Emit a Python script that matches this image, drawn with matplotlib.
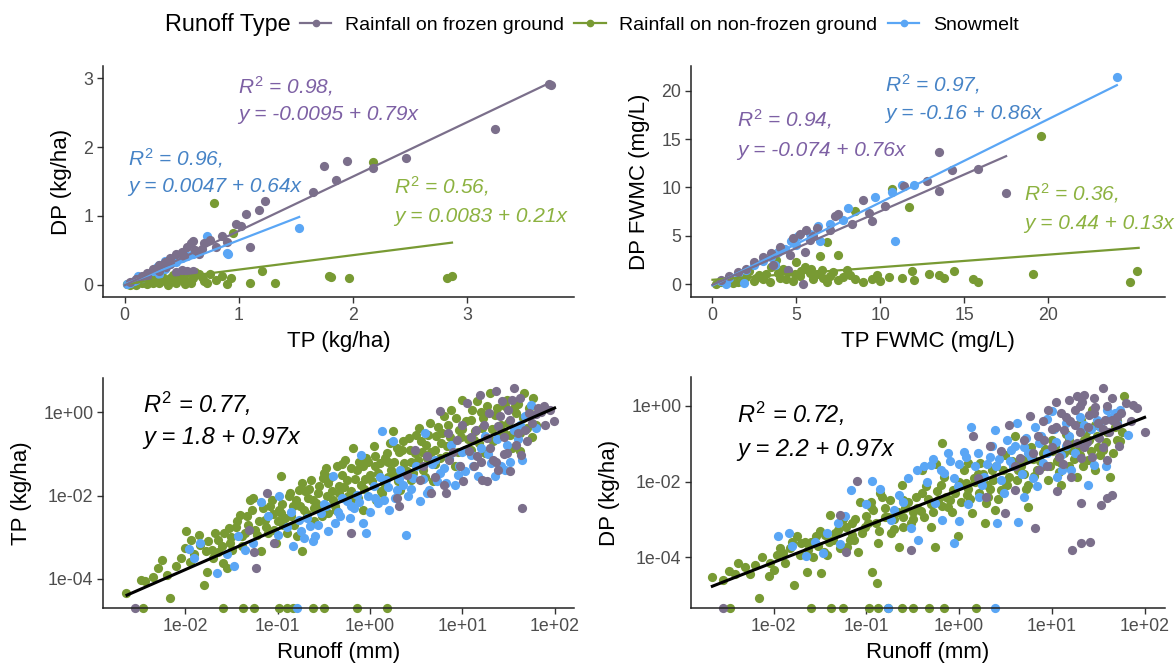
import numpy as np
import matplotlib
matplotlib.use('Agg')
import matplotlib.pyplot as plt
from matplotlib.lines import Line2D
from matplotlib.ticker import FixedLocator, FuncFormatter
import matplotlib.transforms as mtransforms

plt.rcParams['font.family'] = ['Liberation Sans', 'DejaVu Sans']
plt.rcParams['mathtext.fontset'] = 'custom'
plt.rcParams['mathtext.it'] = 'Liberation Sans:italic'
plt.rcParams['mathtext.rm'] = 'Liberation Sans'
plt.rcParams['mathtext.default'] = 'it'

# ---- colours ------------------------------------------------------------
types = ['Rainfall on frozen ground', 'Rainfall on non-frozen ground', 'Snowmelt']
pt_col = {'frozen': '#7B6F8B', 'nonfrozen': '#789A33', 'snow': '#5AA6F5'}
txt_col = {'frozen': '#7D60A4', 'nonfrozen': '#8CB240', 'snow': '#4683C6'}

# ---- panel A: DP vs TP (kg/ha) -------------------------------------------
tl_frozen = [(3.72, 2.92), (3.74, 2.90), (3.25, 2.27), (2.47, 1.84), (1.95, 1.80), (1.75, 1.72),
             (1.85, 1.52), (2.18, 1.70), (1.65, 1.35), (1.23, 1.22), (1.18, 1.09), (1.06, 1.02),
             (0.98, 0.88), (1.02, 0.85), (1.10, 0.54), (0.85, 0.70), (0.75, 0.65), (0.70, 0.60),
             (0.60, 0.64), (0.58, 0.60), (0.55, 0.55), (0.50, 0.47), (0.45, 0.45), (0.40, 0.38),
             (0.35, 0.33), (0.30, 0.28), (0.25, 0.22), (0.20, 0.17), (0.15, 0.12), (0.10, 0.08),
             (0.05, 0.04), (0.60, 0.20), (0.55, 0.20), (0.50, 0.21), (0.65, 0.45), (0.62, 0.50),
             (0.80, 0.55), (0.90, 0.62), (0.45, 0.18), (0.40, 0.30), (0.30, 0.20), (0.20, 0.12),
             (0.68, 0.52), (0.52, 0.42), (0.36, 0.26)]
tl_nonfrozen = [(2.87, 0.13), (2.83, 0.10), (1.97, 0.09), (1.79, 0.12), (1.81, 0.11), (1.32, 0.02),
                (1.10, 0.02), (0.93, 0.10), (0.90, 0.01), (0.80, 0.06), (0.75, 0.15), (0.70, 0.05),
                (0.72, 0.02), (1.20, 0.20), (0.65, 0.16), (0.60, 0.10), (0.55, 0.05), (0.50, 0.08),
                (0.45, 0.02), (0.40, 0.10), (0.35, 0.05), (0.30, 0.03), (0.25, 0.02), (0.20, 0.01),
                (0.15, 0.02), (0.10, 0.00), (0.05, 0.00), (0.02, 0.01), (0.78, 1.18), (2.18, 1.78),
                (0.45, 0.42), (0.95, 0.75), (0.50, 0.18), (0.62, 0.19), (0.42, 0.14), (0.33, 0.12),
                (0.28, 0.08), (0.18, 0.06), (0.12, 0.04), (0.38, 0.00), (0.58, 0.02), (0.68, 0.11),
                (0.85, 0.13), (0.48, 0.12), (0.22, 0.09), (0.08, 0.02), (0.53, 0.01), (0.27, 0.15)]
tl_snow = [(1.53, 0.82), (0.91, 0.44), (0.90, 0.46), (0.72, 0.70), (0.60, 0.45), (0.55, 0.42),
           (0.50, 0.38), (0.45, 0.33), (0.40, 0.30), (0.35, 0.35), (0.30, 0.28), (0.28, 0.25),
           (0.25, 0.20), (0.20, 0.15), (0.15, 0.10), (0.10, 0.07), (0.08, 0.05), (0.05, 0.03),
           (0.02, 0.01), (0.35, 0.22), (0.30, 0.15), (0.12, 0.12)]
# regression (intercept, slope, x end)
tl_fit = {'frozen': (-0.0095, 0.79, 3.73), 'nonfrozen': (0.0083, 0.21, 2.87), 'snow': (0.0047, 0.64, 1.53)}
tl_r2 = {'frozen': (0.98, '-0.0095 + 0.79x'), 'nonfrozen': (0.56, '0.0083 + 0.21x'), 'snow': (0.96, '0.0047 + 0.64x')}

# ---- panel B: DP FWMC vs TP FWMC (mg/L) ----------------------------------
tr_frozen = [(17.5, 9.4), (13.5, 13.7), (13.5, 9.6), (14.3, 11.8), (15.8, 11.9), (12.8, 10.7),
             (11.4, 10.1), (10.3, 8.1), (9.3, 7.3), (9.0, 8.7), (9.5, 6.5), (7.5, 7.2), (7.3, 7.0),
             (6.2, 5.8), (5.6, 5.6), (5.2, 5.2), (4.8, 4.8), (5.5, 3.3), (4.6, 3.0), (4.0, 3.8),
             (3.5, 3.2), (3.0, 2.8), (2.5, 2.3), (2.0, 1.6), (1.5, 1.2), (1.0, 0.8), (0.5, 0.4),
             (5.4, 0.0), (4.5, 1.5), (3.6, 2.0), (6.0, 5.0), (5.8, 4.6), (7.0, 5.6), (8.3, 6.2)]
tr_nonfrozen = [(19.6, 15.3), (10.7, 9.8), (11.7, 8.0), (8.5, 7.6), (6.8, 4.3), (7.5, 3.0), (6.4, 2.9),
                (25.3, 1.3), (24.9, 0.2), (19.1, 1.0), (15.5, 0.5), (15.8, 0.2), (14.4, 1.4),
                (13.8, 0.6), (13.5, 0.9), (12.9, 1.0), (12.0, 0.4), (11.9, 1.3), (11.3, 0.6),
                (10.5, 0.7), (10.0, 0.3), (9.5, 0.5), (9.0, 0.2), (8.5, 0.5), (8.0, 1.5), (7.5, 0.4),
                (7.0, 0.8), (6.5, 1.5), (6.0, 0.5), (5.5, 1.8), (5.2, 0.8), (5.0, 2.3), (4.5, 1.2),
                (4.0, 0.6), (3.5, 1.8), (3.2, 1.0), (3.0, 0.5), (2.5, 0.3), (2.0, 0.7), (1.5, 0.2),
                (1.0, 0.4), (0.5, 0.2), (0.2, 0.0), (3.8, 2.5), (2.2, 1.3), (4.8, 0.3), (6.2, 1.0),
                (7.2, 1.2), (8.2, 0.9), (5.8, 1.1), (4.2, 1.6), (3.4, 0.2), (2.8, 0.9), (1.8, 0.4),
                (9.8, 0.9), (6.8, 0.2), (4.4, 0.5), (5.3, 1.4), (6.6, 0.6), (3.9, 1.1), (2.6, 0.6),
                (1.2, 0.1), (0.8, 0.3), (7.8, 0.7), (5.9, 1.6), (4.9, 1.0)]
tr_snow = [(24.1, 21.4), (10.9, 4.5), (11.3, 10.2), (10.7, 9.5), (9.7, 9.0), (8.1, 7.9), (7.8, 6.6),
           (7.0, 6.2), (6.3, 6.0), (6.4, 4.5), (5.8, 5.2), (5.1, 5.0), (4.9, 4.8), (4.7, 4.5),
           (4.3, 3.6), (3.9, 3.3), (3.5, 2.8), (3.0, 2.4), (2.5, 2.0), (2.0, 1.5), (1.5, 1.0),
           (1.0, 0.6), (0.5, 0.3), (1.9, 0.1), (0.8, 0.0), (5.0, 4.0), (3.7, 2.0), (12.0, 10.2)]
tr_fit = {'frozen': (-0.074, 0.76, 17.5), 'nonfrozen': (0.44, 0.13, 25.4), 'snow': (-0.16, 0.86, 24.1)}
tr_r2 = {'frozen': (0.94, '-0.074 + 0.76x'), 'nonfrozen': (0.36, '0.44 + 0.13x'), 'snow': (0.97, '-0.16 + 0.86x')}

# ---- panel C: TP vs runoff, values as log10(runoff mm), log10(TP kg/ha) ----
bl_nonfrozen = [(-2.64, -4.35), (-2.48, -4.03), (-2.43, -4.06), (-2.16, -4.45), (-2.29, -3.74),
                (-2.05, -3.50), (-1.99, -2.85), (-1.94, -3.06), (-1.84, -3.18), (-1.78, -3.34),
                (-1.76, -3.84), (-1.80, -4.14), (-1.71, -3.30), (-1.68, -2.90), (-1.65, -3.06),
                (-1.59, -3.62), (-1.55, -3.74), (-1.53, -2.78), (-1.49, -3.30), (-1.41, -2.46),
                (-1.39, -2.98), (-1.33, -2.50), (-1.30, -2.10), (-1.27, -2.06), (-1.24, -2.82),
                (-1.18, -3.34), (-1.14, -2.58), (-1.08, -2.26), (-1.04, -2.82), (-1.02, -3.14),
                (-0.96, -1.54), (-0.96, -2.42), (-0.94, -2.70), (-0.90, -2.90), (-0.88, -2.02),
                (-0.83, -2.26), (-0.79, -2.98), (-0.77, -1.86), (-0.73, -3.34), (-0.71, -2.34),
                (-0.67, -2.06), (-0.64, -1.62), (-0.61, -2.62), (-0.58, -2.18), (-0.55, -1.78),
                (-0.51, -1.58), (-0.48, -1.34), (-0.45, -2.42), (-0.41, -1.90), (-0.38, -2.26),
                (-0.36, -1.30), (-0.33, -1.78), (-0.27, -1.14), (-0.25, -1.62), (-0.22, -2.14),
                (-0.18, -0.86), (-0.14, -1.38), (-0.10, -1.74), (-0.07, -2.34), (-0.04, -1.10),
                (0.00, -1.50), (0.04, -0.82), (0.07, -2.10), (0.11, -1.22), (0.15, -1.70),
                (0.18, -0.98), (0.23, -1.38), (0.25, -0.46), (0.29, -0.86), (0.33, -1.86),
                (0.37, -1.22), (0.42, -0.62), (0.45, -1.62), (0.49, -0.98), (0.53, -0.38),
                (0.57, -1.38), (0.61, -0.78), (0.65, -0.26), (0.68, -1.66), (0.72, -0.58),
                (0.76, -1.10), (0.80, -0.10), (0.84, -0.82), (0.88, 0.06), (0.92, -1.30),
                (0.97, -0.42), (1.00, 0.30), (1.03, -0.90), (1.09, -0.18), (1.13, -0.66),
                (1.16, 0.26), (1.21, -0.38), (1.25, -0.98), (1.30, 0.46), (1.35, -0.06),
                (1.40, -0.58), (1.46, 0.14), (1.50, -0.26), (1.54, -0.86), (1.58, -0.02),
                (1.63, -0.94), (1.67, 0.46), (1.70, -0.38), (1.77, 0.34), (1.80, -0.30),
                (-2.20, -3.90), (-2.10, -3.70), (-1.90, -3.40), (-1.70, -3.50), (-1.60, -3.20),
                (-1.50, -3.00), (-1.45, -2.75), (-1.35, -2.90), (-1.20, -2.60), (-1.10, -2.90),
                (-1.05, -2.45), (-0.95, -2.20), (-0.85, -2.50), (-0.80, -2.10), (-0.70, -1.90),
                (-0.62, -2.10), (-0.55, -2.30), (-0.45, -1.70), (-0.40, -2.10), (-0.30, -1.50),
                (-0.20, -1.90), (-0.12, -1.20), (-0.05, -1.60), (0.05, -1.30), (0.12, -1.90),
                (0.20, -1.20), (0.28, -1.50), (0.35, -0.90), (0.45, -1.20), (0.55, -0.70),
                (0.62, -1.10), (0.70, -0.90), (0.78, -0.50), (0.90, -0.70), (1.00, -0.40),
                (1.10, -0.90), (1.20, 0.00), (1.32, -0.40), (1.45, -0.50), (1.60, 0.20),
                (-2.35, -3.95), (-2.25, -3.55), (-2.00, -3.25), (-1.95, -3.60), (-1.85, -2.95),
                (-1.75, -3.10), (-1.65, -3.35), (-1.58, -2.90), (-1.52, -3.15), (-1.44, -2.60),
                (-1.38, -3.20), (-1.32, -2.70), (-1.28, -2.35), (-1.22, -2.95), (-1.16, -2.30),
                (-1.12, -2.75), (-1.06, -2.10), (-1.00, -2.60), (-0.98, -2.35), (-0.92, -2.55),
                (-0.86, -1.95), (-0.82, -2.70), (-0.76, -2.25), (-0.74, -1.70), (-0.68, -2.45),
                (-0.66, -1.85), (-0.60, -2.30), (-0.56, -1.95), (-0.52, -2.50), (-0.50, -1.45),
                (-0.46, -2.00), (-0.42, -1.55), (-0.37, -2.35), (-0.34, -1.95), (-0.30, -1.25),
                (-0.28, -1.80), (-0.24, -2.00), (-0.20, -1.35), (-0.16, -1.60), (-0.13, -2.05),
                (-0.08, -1.30), (-0.06, -1.85), (-0.02, -1.20), (0.02, -1.65), (0.06, -1.05),
                (0.09, -1.45), (0.13, -1.95), (0.16, -1.10), (0.20, -1.55), (0.22, -0.75),
                (0.26, -1.20), (0.30, -1.65), (0.32, -0.95), (0.36, -0.70), (0.40, -1.40),
                (0.43, -0.90), (0.47, -1.45), (0.50, -0.55), (0.52, -1.15), (0.56, -0.95),
                (0.60, -1.55), (0.63, -0.55), (0.66, -0.95), (0.70, -1.25), (0.74, -0.35),
                (0.77, -0.75), (0.82, -1.05), (0.85, -0.30), (0.87, -0.60), (0.93, -0.15),
                (0.95, -0.95), (0.99, -0.60), (1.04, -0.20), (1.06, -0.65), (1.11, 0.05),
                (1.14, -0.45), (1.18, -0.75), (1.23, -0.15), (1.27, 0.15), (1.33, -0.70),
                (1.38, 0.10), (1.42, -0.30), (1.48, 0.30), (1.52, -0.55), (1.56, 0.10),
                (1.62, -0.50), (1.66, -0.15), (1.72, 0.10), (1.75, -0.60)]
bl_snow = [(-1.96, -3.28), (-1.84, -3.15), (-1.66, -3.87), (-1.47, -3.70), (-1.43, -2.96),
           (-1.27, -3.14), (-1.18, -2.15), (-0.98, -2.02), (-0.83, -3.20), (-0.77, -2.58),
           (-0.71, -3.02), (-0.65, -2.74), (-0.59, -2.98), (-0.53, -2.42), (-0.48, -2.26),
           (-0.40, -1.54), (-0.38, -2.66), (-0.32, -2.50), (-0.25, -2.14), (-0.20, -2.26),
           (-0.14, -1.98), (-0.10, -1.02), (-0.08, -2.66), (-0.04, -2.90), (-0.02, -2.02),
           (0.04, -1.78), (0.09, -2.18), (0.13, -0.46), (0.17, -1.62), (0.21, -2.34),
           (0.25, -0.70), (0.29, -1.86), (0.33, -1.38), (0.39, -2.94), (0.41, -2.02),
           (0.47, -1.58), (0.54, -2.14), (0.60, -0.50), (0.64, -1.86), (0.70, -1.14),
           (0.76, -1.46), (0.82, -1.70), (0.88, -0.78), (0.92, -1.74), (0.97, -1.30),
           (1.03, -1.42), (1.09, -1.02), (1.17, -1.54), (1.25, -0.58), (1.31, -1.22),
           (1.35, -1.54), (1.42, -1.30), (1.46, -1.38), (1.48, -0.78), (1.56, -0.42),
           (1.68, -0.10), (1.74, 0.18), (1.80, -0.38),
           (-1.90, -3.50), (-1.55, -3.40), (-1.35, -3.30), (-1.10, -2.50), (-1.00, -2.95),
           (-0.90, -2.75), (-0.85, -2.40), (-0.75, -2.85), (-0.68, -2.55), (-0.62, -3.10),
           (-0.56, -2.70), (-0.50, -2.20), (-0.45, -2.85), (-0.35, -2.40), (-0.30, -2.05),
           (-0.22, -2.55), (-0.17, -2.30), (-0.12, -2.15), (0.00, -2.40), (0.06, -2.05),
           (0.11, -1.55), (0.15, -2.10), (0.20, -1.80), (0.27, -2.05), (0.31, -1.60),
           (0.36, -1.75), (0.44, -1.85), (0.50, -1.30), (0.57, -1.60), (0.62, -1.95),
           (0.67, -1.25), (0.73, -1.65), (0.80, -1.35), (0.86, -1.10), (0.95, -1.50),
           (1.00, -0.95), (1.12, -1.30), (1.20, -0.85), (1.28, -1.00), (1.38, -0.65),
           (1.52, -1.20), (1.60, -0.65), (1.62, -0.30), (1.65, -1.15)]
bl_frozen = [(-1.11, -1.94), (-1.26, -3.36), (-1.23, -3.74), (-1.31, -2.82), (-1.04, -3.14),
             (-0.21, -2.91), (0.29, -2.06), (0.32, -2.26), (0.49, -0.90), (0.58, -1.30),
             (0.66, -1.94), (0.82, -1.94), (0.76, 0.02), (0.86, -1.14), (0.94, -0.66),
             (1.01, -1.66), (1.05, 0.22), (1.07, -0.94), (1.13, -1.30), (1.15, -0.42),
             (1.19, 0.42), (1.21, -1.62), (1.27, -0.62), (1.29, -0.02), (1.33, -1.14),
             (1.37, 0.50), (1.39, -0.34), (1.43, 0.26), (1.48, -0.98), (1.52, -0.18),
             (1.54, 0.30), (1.56, 0.58), (1.58, -0.78), (1.64, -1.02), (1.65, -2.30),
             (1.68, -0.42), (1.72, -0.02), (1.82, 0.10), (1.89, 0.14), (1.99, -0.22),
             (1.52, -1.42), (1.39, -1.38), (1.27, -1.66), (0.80, -1.74), (0.54, -1.62),
             (0.40, -1.50), (0.62, -1.05), (0.70, -1.55), (0.90, -0.95), (0.98, -1.30),
             (1.10, -0.60), (1.16, -1.05), (1.24, -0.30), (1.30, -0.85), (1.36, -1.20),
             (1.41, -0.10), (1.45, -0.60), (1.50, 0.05), (1.60, -0.50), (1.62, 0.35),
             (1.70, -0.70), (1.75, -0.25), (1.80, -0.05), (1.85, 0.00), (1.90, -0.30),
             (1.95, 0.05), (1.20, -1.20), (1.00, -0.30), (0.85, -0.50), (1.45, -1.00)]
# events with zero TP (drawn on the lower panel edge), log10 runoff
bl_zero = {'nonfrozen': [-2.46, -1.59, -1.37, -1.26, -0.98, -0.90, -0.83, -0.62, -0.50, -0.14, 0.18],
           'frozen': [-2.54], 'snow': [-0.79]}
bl_fit = (-1.84, 0.97, -2.63, 2.0)   # log-log intercept, slope, x range

# ---- panel D: DP vs runoff (log10 values) --------------------------------
br_nonfrozen = [(-2.66, -4.53), (-2.48, -4.36), (-2.42, -4.44), (-2.31, -4.25), (-2.16, -5.07),
                (-2.04, -4.14), (-1.99, -4.33), (-1.93, -3.76), (-1.78, -4.73), (-1.75, -3.45),
                (-1.70, -3.63), (-1.64, -4.38), (-1.63, -3.81), (-1.54, -3.45), (-1.49, -4.41),
                (-1.46, -3.85), (-1.39, -2.88), (-1.36, -3.54), (-1.30, -3.28), (-1.21, -3.72),
                (-1.15, -3.10), (-1.09, -3.85), (-1.07, -2.53), (-1.01, -3.19), (-0.95, -2.66),
                (-0.94, -4.40), (-0.89, -4.69), (-0.87, -3.63), (-0.83, -2.40), (-0.77, -2.93),
                (-0.73, -3.37), (-0.65, -3.72), (-0.62, -2.09), (-0.58, -2.70), (-0.52, -3.10),
                (-0.46, -2.40), (-0.41, -2.79), (-0.36, -2.13), (-0.30, -3.19), (-0.26, -3.72),
                (-0.23, -2.48), (-0.18, -0.97), (-0.16, -1.87), (-0.12, -2.66), (-0.07, -2.22),
                (-0.01, -3.45), (0.05, -1.69), (0.09, -2.35), (0.14, -2.84), (0.17, -2.00),
                (0.23, -1.52), (0.28, -3.10), (0.31, -2.40), (0.35, -1.69), (0.39, -2.75),
                (0.45, -2.22), (0.49, -1.30), (0.54, -1.87), (0.60, -0.81), (0.64, -1.69),
                (0.70, -1.43), (0.74, -2.66), (0.78, -1.08), (0.84, -1.69), (0.90, -1.25),
                (0.96, -1.96), (1.00, -0.90), (1.06, -1.47), (1.10, -2.09), (1.15, -0.74),
                (1.21, -1.16), (1.27, -1.87), (1.31, -0.37), (1.35, -0.90), (1.39, -1.43),
                (1.43, -0.11), (1.49, -0.81), (1.55, -1.16), (1.63, -1.89), (1.70, -0.41),
                (1.74, -0.94), (1.78, 0.25), (1.47, -1.69), (1.19, -1.60), (0.74, -2.09),
                (0.29, -2.57), (-0.40, -1.69), (-0.60, -3.19), (-1.13, -3.54),
                (-2.20, -4.20), (-1.90, -3.90), (-1.80, -3.60), (-1.60, -3.60), (-1.50, -3.30),
                (-1.40, -3.60), (-1.25, -3.00), (-1.15, -3.40), (-1.00, -2.90), (-0.90, -3.10),
                (-0.80, -2.70), (-0.70, -3.00), (-0.60, -2.50), (-0.50, -2.80), (-0.40, -2.30),
                (-0.30, -2.60), (-0.20, -2.10), (-0.10, -2.50), (0.00, -2.00), (0.10, -2.20),
                (0.20, -1.80), (0.30, -2.10), (0.40, -1.60), (0.50, -2.00), (0.60, -1.50),
                (0.70, -1.80), (0.80, -1.40), (0.90, -1.60), (1.00, -1.20), (1.10, -1.50),
                (1.20, -1.00), (1.30, -1.30), (1.40, -0.90), (1.50, -1.10), (1.60, -0.70),
                (1.70, -0.90),
                (-2.55, -4.60), (-2.38, -4.15), (-2.25, -4.45), (-2.12, -4.00), (-2.05, -4.50),
                (-1.96, -3.95), (-1.88, -4.15), (-1.82, -3.75), (-1.72, -3.95), (-1.66, -3.60),
                (-1.58, -4.00), (-1.52, -3.70), (-1.45, -3.40), (-1.42, -3.95), (-1.34, -3.35),
                (-1.28, -3.75), (-1.22, -3.20), (-1.18, -3.55), (-1.12, -3.00), (-1.05, -3.35),
                (-0.98, -3.10), (-0.93, -2.75), (-0.86, -3.30), (-0.80, -2.95), (-0.75, -2.50),
                (-0.70, -3.25), (-0.66, -2.80), (-0.60, -2.95), (-0.55, -2.55), (-0.50, -3.00),
                (-0.45, -2.70), (-0.38, -2.95), (-0.34, -2.45), (-0.28, -2.80), (-0.24, -2.25),
                (-0.18, -2.65), (-0.14, -2.40), (-0.08, -2.80), (-0.04, -2.30), (0.02, -2.55),
                (0.07, -2.05), (0.12, -2.45), (0.16, -1.90), (0.22, -2.30), (0.26, -1.80),
                (0.33, -2.20), (0.37, -1.95), (0.42, -2.45), (0.47, -1.70), (0.52, -2.10),
                (0.57, -1.45), (0.62, -1.95), (0.67, -1.60), (0.72, -2.20), (0.76, -1.30),
                (0.81, -1.85), (0.87, -1.45), (0.93, -1.15), (0.98, -1.60), (1.03, -1.05),
                (1.08, -1.75), (1.13, -1.25), (1.18, -0.90), (1.24, -1.40), (1.29, -1.05),
                (1.34, -1.60), (1.37, -0.70), (1.42, -1.20), (1.46, -0.50), (1.52, -1.30),
                (1.58, -0.95), (1.66, -1.25), (1.68, -0.55), (1.76, -0.70), (-0.85, -2.30),
                (-0.95, -2.55), (-0.25, -1.55), (0.10, -1.50)]
br_snow = [(-1.95, -3.45), (-1.83, -3.35), (-1.65, -3.98), (-1.47, -3.89), (-1.42, -3.35),
           (-1.28, -3.65), (-1.23, -2.90), (-1.17, -2.22), (-0.94, -1.98), (-0.73, -3.01),
           (-0.60, -2.53), (-0.52, -3.23), (-0.44, -3.54), (-0.38, -1.60), (-0.30, -1.56),
           (-0.26, -2.57), (-0.18, -3.01), (-0.16, -1.78), (-0.10, -1.47), (-0.05, -3.63),
           (-0.01, -2.13), (0.05, -1.21), (0.13, -0.55), (0.17, -1.60), (0.21, -2.40),
           (0.27, -1.87), (0.33, -1.34), (0.39, -0.63), (0.41, -3.10), (0.45, -1.96),
           (0.52, -0.90), (0.58, -1.60), (0.62, -0.46), (0.64, -3.06), (0.70, -2.40),
           (0.74, -1.25), (0.82, -0.55), (0.84, -2.13), (0.90, -1.52), (1.00, -0.15),
           (1.06, -1.87), (1.15, -1.07), (1.21, -1.69), (1.31, -0.63), (1.39, -2.09),
           (1.45, -1.56), (1.49, -0.37), (1.63, -0.33), (1.74, -0.11), (1.82, -0.77),
           (1.11, -1.69), (0.86, -0.99), (0.56, -1.16),
           (-1.80, -3.70), (-1.55, -3.60), (-1.30, -3.10), (-1.00, -2.60), (-0.85, -2.20),
           (-0.65, -2.35), (-0.55, -1.90), (-0.45, -1.70), (-0.35, -2.00), (-0.28, -1.40),
           (-0.20, -1.70), (-0.12, -1.25), (-0.05, -1.90), (0.00, -1.55), (0.08, -1.35),
           (0.10, -2.60), (0.20, -1.25), (0.25, -2.10), (0.30, -1.55), (0.36, -1.05),
           (0.43, -1.40), (0.48, -2.30), (0.55, -1.45), (0.60, -1.05), (0.68, -1.80),
           (0.72, -0.85), (0.78, -1.35), (0.88, -0.80), (0.95, -1.25), (1.02, -0.60),
           (1.10, -1.30), (1.18, -0.80), (1.25, -1.25), (1.30, -0.30), (1.36, -1.00),
           (1.42, -0.60), (1.52, -0.55), (1.58, -1.60), (1.68, -0.20), (1.70, -0.45),
           (-0.70, -2.75), (0.00, -3.05),
           (0.95, -0.35), (1.15, -0.45), (1.05, -0.95), (0.70, -1.10), (1.35, -0.50),
           (1.60, -0.10), (0.40, -1.60), (0.80, -1.90)]
br_frozen = [(-1.10, -1.98), (-1.28, -2.88), (-1.22, -3.85), (-0.52, -3.81), (0.15, -0.81),
             (0.33, -1.07), (0.54, -0.50), (0.60, -2.22), (0.66, -1.38), (0.76, -0.28),
             (0.82, -3.23), (0.86, -1.69), (0.92, -0.90), (0.96, -0.11), (1.04, 0.11),
             (1.06, -2.26), (1.13, -0.63), (1.19, 0.16), (1.21, -1.87), (1.22, -3.81),
             (1.27, -0.99), (1.31, -3.63), (1.35, 0.29), (1.39, -0.55), (1.41, -3.61),
             (1.43, -1.34), (1.47, -0.02), (1.51, -0.85), (1.53, -2.62), (1.55, 0.47),
             (1.57, -0.37), (1.59, -2.44), (1.65, -2.35), (1.65, -0.37), (1.72, -1.07),
             (1.80, 0.07), (1.88, 0.03), (2.00, -0.70), (1.59, -1.43), (1.31, -1.38),
             (1.08, -1.34), (0.49, -2.84), (0.29, -2.40), (1.31, -2.57), (1.27, 0.25),
             (0.20, -1.90), (0.45, -1.20), (0.70, -0.90), (0.80, -1.25), (0.90, -0.40),
             (1.00, -1.10), (1.05, -0.55), (1.10, -0.20), (1.16, -1.00), (1.20, -0.40),
             (1.25, -0.10), (1.30, -0.70), (1.33, 0.10), (1.38, -0.95), (1.40, -0.25),
             (1.45, 0.20), (1.50, -0.45), (1.55, -1.10), (1.60, 0.00), (1.62, -0.70),
             (1.70, -0.50), (1.75, -0.20), (1.85, -0.40), (1.92, -0.05), (0.95, -1.60),
             (1.12, -1.55), (0.60, -1.60),
             (1.00, -0.60), (1.15, -0.30), (1.30, 0.00), (1.45, -0.20), (1.55, -0.60),
             (1.65, 0.20), (1.70, -0.30), (1.25, -0.50), (1.35, -1.10), (0.85, -0.80)]
br_zero = {'nonfrozen': [-2.47, -1.60, -1.38, -1.25, -0.97, -0.87, -0.77, -0.62, -0.50, -0.32, -0.16, 0.18],
           'frozen': [-2.54], 'snow': [-0.77, 0.39]}
br_fit = (-2.22, 0.957, -2.66, 2.0)

# ---- figure ---------------------------------------------------------------
W, H = 1176, 669
fig = plt.figure(figsize=(W / 100, H / 100), dpi=100)


def px_axes(l, t, r, b):
    return fig.add_axes([l / W, 1 - b / H, (r - l) / W, (b - t) / H])


ax_a = px_axes(103, 66, 574, 297)
ax_b = px_axes(691, 66, 1165, 297)
ax_c = px_axes(103, 378, 574, 608)
ax_d = px_axes(691, 377, 1165, 608)

for ax in (ax_a, ax_b, ax_c, ax_d):
    for s in ('top', 'right'):
        ax.spines[s].set_visible(False)
    for s in ('left', 'bottom'):
        ax.spines[s].set_color('#222222')
        ax.spines[s].set_linewidth(1.1)
    ax.tick_params(length=4, width=1, color='#333333', labelcolor='#4D4D4D', labelsize=12.8, pad=3)

S = 44
order = ['nonfrozen', 'snow', 'frozen']


def scatter_linear(ax, data, fits):
    for k in order:
        arr = np.array(data[k])
        ax.scatter(arr[:, 0], arr[:, 1], s=S, color=pt_col[k], linewidths=0, zorder=2)
    for k in ['nonfrozen', 'snow', 'frozen']:
        a, b, xe = fits[k]
        xs = np.linspace(0, xe, 50)
        ax.plot(xs, a + b * xs, color=pt_col[k], lw=1.6, zorder=3)


scatter_linear(ax_a, {'frozen': tl_frozen, 'nonfrozen': tl_nonfrozen, 'snow': tl_snow}, tl_fit)
ax_a.set_xlim(-0.19, 3.94)
ax_a.set_ylim(-0.18, 3.18)
ax_a.set_xticks([0, 1, 2, 3])
ax_a.set_yticks([0, 1, 2, 3])
ax_a.set_xlabel('TP (kg/ha)', fontsize=16, labelpad=5)
ax_a.set_ylabel('DP (kg/ha)', fontsize=16, labelpad=8)

scatter_linear(ax_b, {'frozen': tr_frozen, 'nonfrozen': tr_nonfrozen, 'snow': tr_snow}, tr_fit)
ax_b.set_xlim(-1.28, 26.97)
ax_b.set_ylim(-1.34, 22.55)
ax_b.set_xticks([0, 5, 10, 15, 20])
ax_b.set_yticks([0, 5, 10, 15, 20])
ax_b.set_xlabel('TP FWMC (mg/L)', fontsize=16, labelpad=5)
ax_b.set_ylabel('DP FWMC (mg/L)', fontsize=16, labelpad=8)


def sci(v, pos):
    return f'{v:.0e}'


def scatter_log(ax, data, zeros, fit, xl, yl, ylabel):
    trans = mtransforms.blended_transform_factory(ax.transData, ax.transAxes)
    for k in order:
        arr = np.array(data[k])
        ax.scatter(10 ** arr[:, 0], 10 ** arr[:, 1], s=S, color=pt_col[k], linewidths=0, zorder=2)
        z = np.array(zeros[k])
        ax.scatter(10 ** z, np.zeros_like(z), s=S, color=pt_col[k], linewidths=0,
                   transform=trans, clip_on=False, zorder=2)
    a, b, x0, x1 = fit
    lx = np.linspace(x0, x1, 50)
    ax.plot(10 ** lx, 10 ** (a + b * lx), color='black', lw=2.2, zorder=3)
    ax.set_xscale('log')
    ax.set_yscale('log')
    ax.set_xlim(10 ** xl[0], 10 ** xl[1])
    ax.set_ylim(10 ** yl[0], 10 ** yl[1])
    ax.xaxis.set_major_locator(FixedLocator([1e-2, 1e-1, 1e0, 1e1, 1e2]))
    ax.yaxis.set_major_locator(FixedLocator([1e-4, 1e-2, 1e0]))
    ax.xaxis.set_minor_locator(FixedLocator([]))
    ax.yaxis.set_minor_locator(FixedLocator([]))
    ax.xaxis.set_major_formatter(FuncFormatter(sci))
    ax.yaxis.set_major_formatter(FuncFormatter(sci))
    ax.set_xlabel('Runoff (mm)', fontsize=16, labelpad=5)
    ax.set_ylabel(ylabel, fontsize=16, labelpad=8)


scatter_log(ax_c, {'frozen': bl_frozen, 'nonfrozen': bl_nonfrozen, 'snow': bl_snow}, bl_zero, bl_fit,
            (-2.89, 2.21), (-4.70, 0.82), 'TP (kg/ha)')
scatter_log(ax_d, {'frozen': br_frozen, 'nonfrozen': br_nonfrozen, 'snow': br_snow}, br_zero, br_fit,
            (-2.89, 2.22), (-5.34, 0.76), 'DP (kg/ha)')


# ---- equations ------------------------------------------------------------
def eq(xp, y1, y2, r2, eqn, color, size):
    fig.text(xp / W, 1 - y1 / H, f'$R^2$ = {r2:.2f},', color=color, fontsize=size,
             style='italic', ha='left', va='baseline')
    fig.text(xp / W, 1 - y2 / H, f'y = {eqn}', color=color, fontsize=size,
             style='italic', ha='left', va='baseline')


eq(238, 93, 120, *tl_r2['frozen'], txt_col['frozen'], 15)
eq(128, 165, 192, *tl_r2['snow'], txt_col['snow'], 15)
eq(394, 193, 222, *tl_r2['nonfrozen'], txt_col['nonfrozen'], 15)
eq(885, 91, 119, *tr_r2['snow'], txt_col['snow'], 15)
eq(737, 126, 156, *tr_r2['frozen'], txt_col['frozen'], 15)
eq(1024, 200, 229, *tr_r2['nonfrozen'], txt_col['nonfrozen'], 15)
eq(143, 413, 444, 0.77, '1.8 + 0.97x', 'black', 17)
eq(737, 423, 456, 0.72, '2.2 + 0.97x', 'black', 17)

# ---- legend ---------------------------------------------------------------
fig.text(165 / W, 1 - 25 / H, 'Runoff Type', fontsize=16.8, ha='left', va='center')
handles = [Line2D([], [], color=pt_col[k], marker='o', markersize=4.5, lw=1.6)
           for k in ['frozen', 'nonfrozen', 'snow']]
fig.legend(handles, types, loc='center left', bbox_to_anchor=(300 / W, 1 - 25 / H), ncol=3,
           frameon=False, fontsize=14, handlelength=1.6, handletextpad=0.7, columnspacing=0.55,
           borderpad=0, borderaxespad=0)

fig.savefig('out.png', dpi=100)
